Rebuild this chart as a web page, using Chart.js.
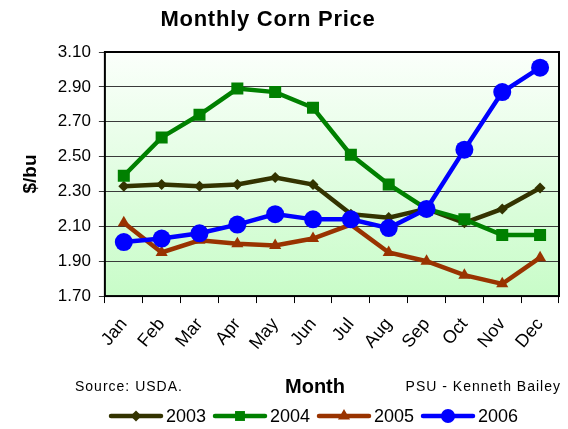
<!DOCTYPE html>
<html>
<head>
<meta charset="utf-8">
<script src="https://cdn.jsdelivr.net/npm/chart.js@4/dist/chart.umd.min.js"></script>
<style>
  html, body { margin: 0; padding: 0; background: #fff; }
  #wrap { width: 568px; height: 429px; position: relative; }
</style>
</head>
<body>
<div id="wrap"><canvas id="c" width="568" height="429"></canvas></div>
<script>
const months = ["Jan", "Feb", "Mar", "Apr", "May", "Jun", "Jul", "Aug", "Sep", "Oct", "Nov", "Dec"];
const price2003 = [2.33, 2.34, 2.33, 2.34, 2.38, 2.34, 2.17, 2.15, 2.20, 2.12, 2.20, 2.32];
const price2004 = [2.39, 2.61, 2.74, 2.89, 2.87, 2.78, 2.51, 2.34, 2.20, 2.14, 2.05, 2.05];
const price2005 = [2.12, 1.95, 2.02, 2.00, 1.99, 2.03, 2.11, 1.95, 1.90, 1.82, 1.77, 1.92];
const price2006 = [2.01, 2.03, 2.06, 2.11, 2.17, 2.14, 2.14, 2.09, 2.20, 2.54, 2.87, 3.01];
const yTicks = [1.70, 1.90, 2.10, 2.30, 2.50, 2.70, 2.90, 3.10];

const FONT = "'Liberation Sans', Arial, sans-serif";

function series(label, data, color, style, radius, order) {
  return {
    label, data,
    borderColor: color,
    backgroundColor: color,
    borderWidth: 4.5,
    pointStyle: style,
    pointRadius: radius,
    pointHoverRadius: radius,
    pointBorderWidth: 0,
    tension: 0,
    order
  };
}

// plot background gradient + frame
const plotBox = {
  id: "plotBox",
  beforeDraw(chart) {
    const { ctx, chartArea: a } = chart;
    const g = ctx.createLinearGradient(0, a.top, 0, a.bottom);
    g.addColorStop(0, "#fbfffb");
    g.addColorStop(1, "#c8fcc8");
    ctx.save();
    ctx.fillStyle = g;
    ctx.fillRect(a.left, a.top, a.right - a.left, a.bottom - a.top);
    ctx.restore();
  },
  afterDatasetsDraw(chart) {
    const { ctx, chartArea: a } = chart;
    ctx.save();
    ctx.strokeStyle = "#000";
    ctx.lineWidth = 2;
    ctx.strokeRect(a.left, a.top, a.right - a.left, a.bottom - a.top);
    ctx.restore();
  }
};

// title, axis title, footer texts + legend with line and marker
const texts = {
  id: "texts",
  afterDraw(chart) {
    const { ctx } = chart;
    ctx.save();
    ctx.fillStyle = "#000";
    ctx.textBaseline = "middle";
    ctx.textAlign = "center";

    ctx.font = "bold 22px " + FONT;
    ctx.letterSpacing = "0.75px";
    ctx.fillText("Monthly Corn Price", 268, 20);

    ctx.letterSpacing = "0px";
    ctx.font = "bold 20px " + FONT;
    ctx.fillText("Month", 315, 387);

    ctx.font = "14px " + FONT;
    ctx.letterSpacing = "1px";
    ctx.textAlign = "left";
    ctx.fillText("Source: USDA.", 75, 387);
    ctx.textAlign = "right";
    ctx.fillText("PSU - Kenneth Bailey", 561, 387);
    ctx.letterSpacing = "0px";

    const items = chart.data.datasets;
    ctx.font = "18px " + FONT;
    ctx.textAlign = "left";
    const y = 416;
    let x = 111;
    items.forEach(ds => {
      ctx.strokeStyle = ds.borderColor;
      ctx.lineWidth = 4.5;
      ctx.lineCap = "round";
      ctx.beginPath();
      ctx.moveTo(x, y);
      ctx.lineTo(x + 50, y);
      ctx.stroke();
      ctx.fillStyle = ds.backgroundColor;
      Chart.helpers.drawPoint(ctx, { pointStyle: ds.pointStyle, radius: Math.min(ds.pointRadius, 7), rotation: 0, borderWidth: 0 }, x + 25, y);
      ctx.fillStyle = "#000";
      ctx.fillText(ds.label, x + 55, y + 1);
      x += 104;
    });
    ctx.restore();
  }
};

new Chart(document.getElementById("c"), {
  type: "line",
  data: {
    labels: months,
    datasets: [
      series("2003", price2003, "#333300", "rectRot", 5.5, 3),
      series("2004", price2004, "#008000", "rect", 8.5, 2),
      series("2005", price2005, "#993300", "triangle", 7, 1),
      series("2006", price2006, "#0000ff", "circle", 9, 0)
    ]
  },
  options: {
    responsive: false,
    animation: false,
    devicePixelRatio: 1,
    layout: { padding: { left: 19, right: 4, top: 52, bottom: 64 } },
    plugins: {
      legend: { display: false },
      tooltip: { enabled: false },
      title: { display: false }
    },
    scales: {
      x: {
        offset: true,
        grid: { offset: true, drawOnChartArea: false, color: "#000", tickLength: 7, lineWidth: 1 },
        border: { display: false },
        ticks: {
          color: "#000",
          font: { family: FONT, size: 18 },
          maxRotation: 50, minRotation: 50, padding: 11
        }
      },
      y: {
        min: 1.70, max: 3.10,
        afterBuildTicks(axis) { axis.ticks = yTicks.map(v => ({ value: v })); },
        grid: { color: "#3a3a3a", tickLength: 6, lineWidth: 1 },
        border: { display: false },
        ticks: {
          color: "#000",
          font: { family: FONT, size: 17 },
          padding: 8,
          callback: v => Number(v).toFixed(2)
        },
        title: {
          display: true, text: "$/bu", color: "#000",
          font: { family: FONT, size: 19, weight: "bold" },
          padding: { top: 0, bottom: 8 }
        }
      }
    }
  },
  plugins: [plotBox, texts]
});
</script>
</body>
</html>
